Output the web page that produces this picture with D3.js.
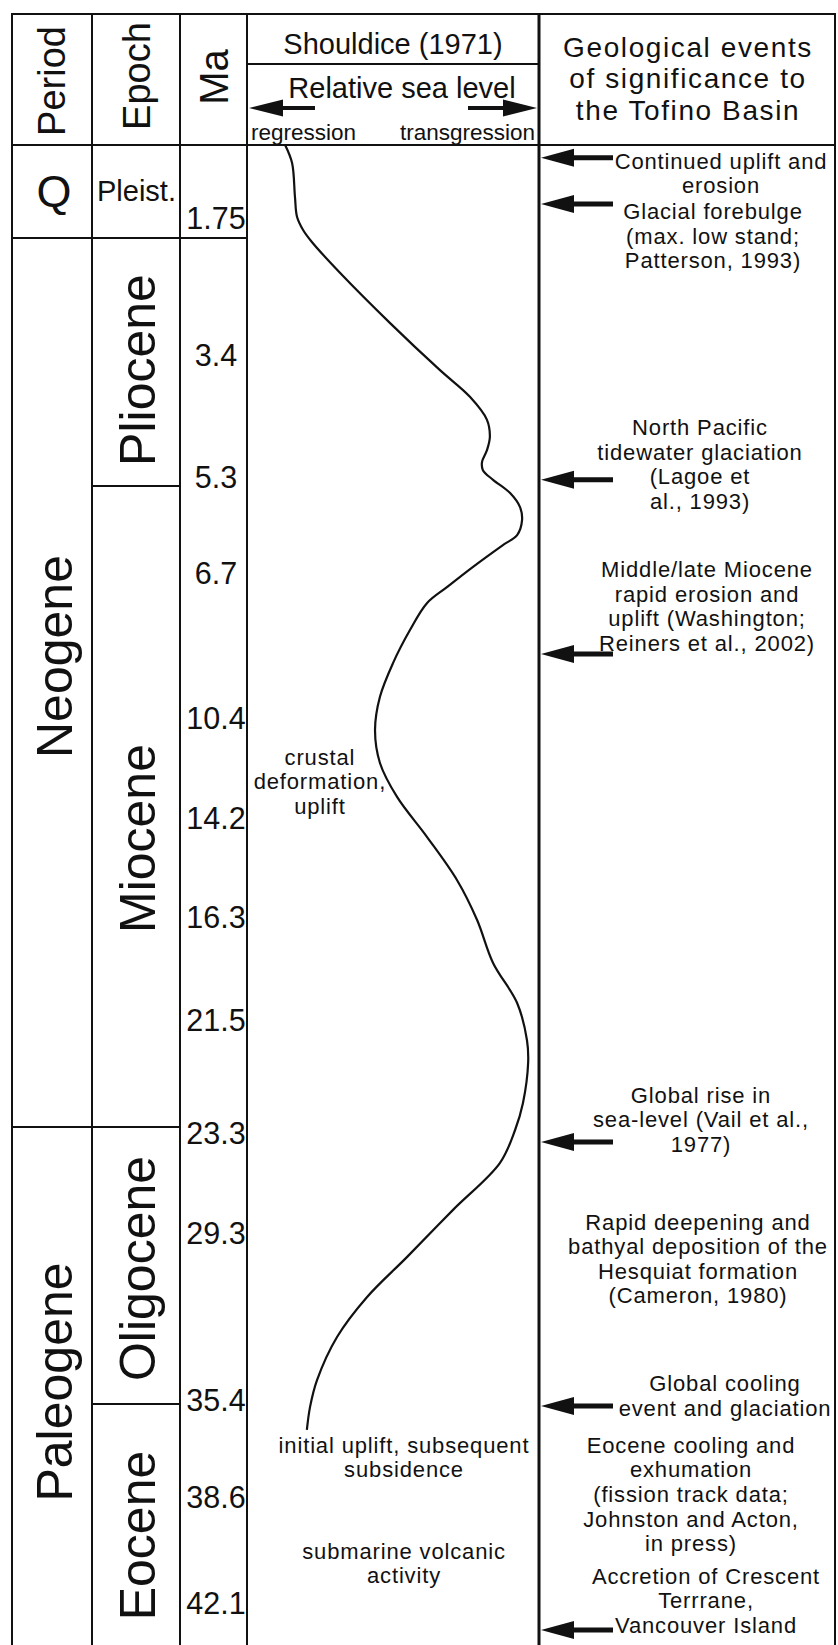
<!DOCTYPE html>
<html>
<head>
<meta charset="utf-8">
<script src="https://cdn.jsdelivr.net/npm/d3@7"></script>
<style>
  body { margin: 0; background: #fff; }
  svg text { font-family: "Liberation Sans", Arial, Helvetica, sans-serif; fill: #111; }
</style>
</head>
<body>
<div id="chart"></div>
<script>
// ---- data ----
var maTicks = [1.75, 3.4, 5.3, 6.7, 10.4, 14.2, 16.3, 21.5, 23.3, 29.3, 35.4, 38.6, 42.1];

var periodNames = ["Q", "Neogene", "Paleogene"];
var periodBase = [1.75, 23.3, 43.5];

var epochNames = ["Pleist.", "Pliocene", "Miocene", "Oligocene", "Eocene"];
var epochBase = [1.75, 5.3, 23.3, 35.4, 43.5];

// Shouldice (1971) relative sea level; level 0 = regression side, 100 = transgression side
var curveAge = [0, 0.34, 0.98, 1.35, 1.6, 1.81, 2.24, 2.95, 3.62, 4.01, 4.34, 4.59, 4.78, 4.95, 5.07, 5.21,
  5.41, 5.64, 5.85, 6.09, 6.25, 6.6, 7.06, 7.47, 8.15, 9.0, 9.86, 10.86, 12.11, 13.4, 14.6, 15.52, 16.45,
  18.62, 20.64, 21.84, 22.22, 22.9, 23.47, 25.33, 27.99, 30.16, 31.59, 33.01, 34.55, 35.5, 36.29];
var curveLevel = [12.8, 15.2, 16.2, 16.9, 19.0, 22.1, 31.7, 49.0, 66.2, 76.6, 82.4, 83.4, 82.4, 80.7, 81.0, 84.5,
  90.3, 93.8, 94.5, 92.8, 87.9, 77.6, 68.6, 61.7, 55.9, 50.0, 45.5, 43.8, 45.5, 51.4, 61.7, 72.1, 79.0,
  84.5, 92.8, 96.2, 96.6, 94.8, 92.1, 86.9, 70.7, 54.8, 41.0, 30.7, 23.8, 21.4, 20.3];

var noteLines = [["crustal", "deformation,", "uplift"],
                 ["initial uplift, subsequent", "subsidence"],
                 ["submarine volcanic", "activity"]];
var noteAge = [11.88, 36.81, 40.38];
var noteLevel = [24.8, 53.8, 53.8];

// geological events column
var arrowAge = [0.24, 1.11, 5.21, 8.77, 24.15, 35.47, 43.0];
var eventLines = [
  ["Continued uplift and", "erosion"],
  ["Glacial forebulge", "(max. low stand;", "Patterson, 1993)"],
  ["North Pacific", "tidewater glaciation", "(Lagoe et", "al., 1993)"],
  ["Middle/late Miocene", "rapid erosion and", "uplift (Washington;", "Reiners et al., 2002)"],
  ["Global rise in", "sea-level (Vail et al.,", "1977)"],
  ["Rapid deepening and", "bathyal deposition of the", "Hesquiat formation", "(Cameron, 1980)"],
  ["Global cooling", "event and glaciation"],
  ["Eocene cooling and", "exhumation", "(fission track data;", "Johnston and Acton,", "in press)"],
  ["Accretion of Crescent", "Terrrane,", "Vancouver Island"]
];
var eventAge = [0.3, 1.25, 4.45, 6.64, 22.76, 28.67, 34.66, 36.81, 41.21];

// ---- layout ----
var width = 838, height = 1645;
var colX = [12, 92, 180, 247, 539, 835];
var topY = 14, headY = 145, subHeadY = 64;
var eventX = [721, 713, 700, 707, 701, 698, 725, 691, 706];
var maNudge = {1.75: -20, 5.3: -9, 23.3: 6, 35.4: -4};
var nameNudge = {"Neogene": -26, "Paleogene": -4, "Pliocene": 8, "Miocene": 32, "Oligocene": 3, "Eocene": 11};

// time runs downward, drawn schematically (not linear in Ma)
var y = d3.scaleLinear()
  .domain([0].concat(maTicks, [43.5]))
  .range([145, 238, 355, 486, 573, 718, 818, 917, 1020, 1127, 1233, 1404, 1497, 1603, 1645]);
var x = d3.scaleLinear().domain([0, 100]).range([248, 538]);

var svg = d3.select("#chart").append("svg")
  .attr("width", width)
  .attr("height", height);

function hline(x1, x2, yy, w) {
  svg.append("line").attr("x1", x1).attr("x2", x2).attr("y1", yy).attr("y2", yy)
    .attr("stroke", "#111").attr("stroke-width", w || 2);
}
function vline(xx, y1, y2, w) {
  svg.append("line").attr("x1", xx).attr("x2", xx).attr("y1", y1).attr("y2", y2)
    .attr("stroke", "#111").attr("stroke-width", w || 2);
}
// arrow pointing from tail to tip
function arrow(tail, tip, yy, shaft, headLen, headH) {
  var d = tip < tail ? 1 : -1;
  var b = tip + d * headLen;
  var p = [[tip, yy], [b, yy - headH / 2], [b, yy - shaft / 2], [tail, yy - shaft / 2],
           [tail, yy + shaft / 2], [b, yy + shaft / 2], [b, yy + headH / 2]];
  svg.append("path").attr("d", "M" + p.join("L") + "Z").attr("fill", "#111");
}
// centred lines of text, cy = middle of first line
function block(lines, cx, cy, size, gap, spacing) {
  lines.forEach(function(s, i) {
    svg.append("text")
      .attr("x", cx)
      .attr("y", cy + i * gap + size * 0.355)
      .attr("text-anchor", "middle")
      .attr("font-size", size)
      .attr("letter-spacing", spacing || 0)
      .text(s);
  });
}
function rotated(s, cx, cy, size) {
  svg.append("text")
    .attr("transform", "translate(" + cx + "," + cy + ") rotate(-90)")
    .attr("text-anchor", "middle").attr("dy", "0.36em")
    .attr("font-size", size).text(s);
}

// ---- frame ----
hline(colX[0], colX[5], topY);
hline(colX[0], colX[5], headY);
hline(colX[3], colX[4], subHeadY);
colX.forEach(function(c, i) { vline(c, topY - 1, height, i == 4 ? 3 : 2); });

// period / epoch boundaries
hline(colX[0], colX[3], y(periodBase[0]));
hline(colX[0], colX[2], y(periodBase[1]));
hline(colX[1], colX[2], y(epochBase[1]));
hline(colX[1], colX[2], y(epochBase[3]));

// ---- header ----
rotated("Period", 51, 81, 38);
rotated("Epoch", 136, 76, 38);
rotated("Ma", 214, 77, 40);

svg.append("text").attr("x", 393).attr("y", 54).attr("text-anchor", "middle")
  .attr("font-size", 29).text("Shouldice (1971)");
svg.append("text").attr("x", 402).attr("y", 98).attr("text-anchor", "middle")
  .attr("font-size", 29).text("Relative sea level");
arrow(315, 249, 108, 4, 34, 17);
arrow(468, 537, 108, 4, 34, 17);
svg.append("text").attr("x", 251).attr("y", 140).attr("font-size", 22.5).text("regression");
svg.append("text").attr("x", 535).attr("y", 140).attr("text-anchor", "end")
  .attr("font-size", 22.5).text("transgression");

block(["Geological events", "of significance to", "the Tofino Basin"], 688, 47, 28, 31.5, 1.6);

// ---- periods and epochs ----
svg.append("text").attr("x", 54).attr("y", 207).attr("text-anchor", "middle")
  .attr("font-size", 45).text(periodNames[0]);
svg.append("text").attr("x", 97).attr("y", 201).attr("font-size", 29).text(epochNames[0]);

periodNames.forEach(function(n, i) {
  if (i == 0) return;
  var mid = (y(periodBase[i - 1]) + y(periodBase[i])) / 2;
  rotated(n, 54, mid + nameNudge[n], 50);
});
epochNames.forEach(function(n, i) {
  if (i == 0) return;
  var mid = (y(epochBase[i - 1]) + y(epochBase[i])) / 2;
  rotated(n, 137, mid + nameNudge[n], 50);
});

// Ma labels
svg.selectAll("text.ma").data(maTicks).enter().append("text")
  .attr("class", "ma")
  .attr("x", 216)
  .attr("y", function(d) { return y(d) + (maNudge[d] || 0) + 11; })
  .attr("text-anchor", "middle")
  .attr("font-size", 30.5)
  .text(function(d) { return d; });

// ---- sea level curve ----
var curvePts = curveAge.map(function(a, i) { return {age: a, level: curveLevel[i]}; });
var line = d3.line()
  .x(function(d) { return x(d.level); })
  .y(function(d) { return y(d.age); })
  .curve(d3.curveCatmullRom.alpha(0.5));
svg.append("path").datum(curvePts)
  .attr("d", line)
  .attr("fill", "none")
  .attr("stroke", "#111")
  .attr("stroke-width", 2.2);

noteLines.forEach(function(l, i) { block(l, x(noteLevel[i]), y(noteAge[i]), 22, 24.6, 0.85); });

// ---- events ----
arrowAge.forEach(function(a) { arrow(613, 541, y(a), 5, 33, 18); });
eventLines.forEach(function(l, i) { block(l, eventX[i], y(eventAge[i]), 22, 24.6, 0.85); });
</script>
</body>
</html>
